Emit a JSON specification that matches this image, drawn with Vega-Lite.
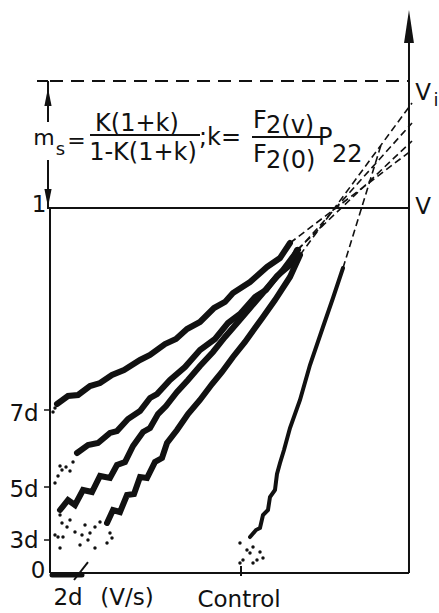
{
  "$schema": "https://vega.github.io/schema/vega-lite/v6.json",
  "width": 439,
  "height": 613,
  "autosize": "none",
  "padding": 0,
  "background": "white",
  "config": {"view": {"stroke": null}},
  "datasets": {
    "curves": [
      {"series": "7d", "i": 1, "x": 0.0195, "y": 0.4630}, {"series": "7d", "i": 2, "x": 0.0501, "y": 0.4849}, {"series": "7d", "i": 3, "x": 0.0780, "y": 0.4877}, {"series": "7d", "i": 4, "x": 0.1114, "y": 0.5123}, {"series": "7d", "i": 5, "x": 0.1393, "y": 0.5205}, {"series": "7d", "i": 6, "x": 0.1727, "y": 0.5425}, {"series": "7d", "i": 7, "x": 0.2061, "y": 0.5562}, {"series": "7d", "i": 8, "x": 0.2507, "y": 0.5836}, {"series": "7d", "i": 9, "x": 0.2786, "y": 0.5973}, {"series": "7d", "i": 10, "x": 0.3203, "y": 0.6274}, {"series": "7d", "i": 11, "x": 0.3510, "y": 0.6411}, {"series": "7d", "i": 12, "x": 0.3816, "y": 0.6685}, {"series": "7d", "i": 13, "x": 0.4178, "y": 0.6877}, {"series": "7d", "i": 14, "x": 0.4568, "y": 0.7260}, {"series": "7d", "i": 15, "x": 0.4875, "y": 0.7425}, {"series": "7d", "i": 16, "x": 0.5097, "y": 0.7671}, {"series": "7d", "i": 17, "x": 0.5571, "y": 0.7973}, {"series": "7d", "i": 18, "x": 0.6045, "y": 0.8384}, {"series": "7d", "i": 19, "x": 0.6407, "y": 0.8630}, {"series": "7d", "i": 20, "x": 0.6685, "y": 0.9041},
      {"series": "5d", "i": 1, "x": 0.0752, "y": 0.3288}, {"series": "5d", "i": 2, "x": 0.1058, "y": 0.3507}, {"series": "5d", "i": 3, "x": 0.1337, "y": 0.3562}, {"series": "5d", "i": 4, "x": 0.1671, "y": 0.3836}, {"series": "5d", "i": 5, "x": 0.1866, "y": 0.3890}, {"series": "5d", "i": 6, "x": 0.2173, "y": 0.4219}, {"series": "5d", "i": 7, "x": 0.2507, "y": 0.4438}, {"series": "5d", "i": 8, "x": 0.2786, "y": 0.4795}, {"series": "5d", "i": 9, "x": 0.2981, "y": 0.4904}, {"series": "5d", "i": 10, "x": 0.3343, "y": 0.5288}, {"series": "5d", "i": 11, "x": 0.3760, "y": 0.5644}, {"series": "5d", "i": 12, "x": 0.4178, "y": 0.6110}, {"series": "5d", "i": 13, "x": 0.4596, "y": 0.6411}, {"series": "5d", "i": 14, "x": 0.4958, "y": 0.6849}, {"series": "5d", "i": 15, "x": 0.5292, "y": 0.7096}, {"series": "5d", "i": 16, "x": 0.5710, "y": 0.7562}, {"series": "5d", "i": 17, "x": 0.6017, "y": 0.7753}, {"series": "5d", "i": 18, "x": 0.6323, "y": 0.8137}, {"series": "5d", "i": 19, "x": 0.6685, "y": 0.8438}, {"series": "5d", "i": 20, "x": 0.6880, "y": 0.8849},
      {"series": "4d", "i": 1, "x": 0.0279, "y": 0.1726}, {"series": "4d", "i": 2, "x": 0.0501, "y": 0.2000}, {"series": "4d", "i": 3, "x": 0.0696, "y": 0.1863}, {"series": "4d", "i": 4, "x": 0.0919, "y": 0.2274}, {"series": "4d", "i": 5, "x": 0.1170, "y": 0.2219}, {"series": "4d", "i": 6, "x": 0.1393, "y": 0.2658}, {"series": "4d", "i": 7, "x": 0.1671, "y": 0.2603}, {"series": "4d", "i": 8, "x": 0.1866, "y": 0.2959}, {"series": "4d", "i": 9, "x": 0.2089, "y": 0.3041}, {"series": "4d", "i": 10, "x": 0.2312, "y": 0.3479}, {"series": "4d", "i": 11, "x": 0.2591, "y": 0.3863}, {"series": "4d", "i": 12, "x": 0.2786, "y": 0.3973}, {"series": "4d", "i": 13, "x": 0.3008, "y": 0.4356}, {"series": "4d", "i": 14, "x": 0.3231, "y": 0.4575}, {"series": "4d", "i": 15, "x": 0.3538, "y": 0.4959}, {"series": "4d", "i": 16, "x": 0.3844, "y": 0.5288}, {"series": "4d", "i": 17, "x": 0.4178, "y": 0.5671}, {"series": "4d", "i": 18, "x": 0.4540, "y": 0.6055}, {"series": "4d", "i": 19, "x": 0.4875, "y": 0.6466}, {"series": "4d", "i": 20, "x": 0.5237, "y": 0.6877}, {"series": "4d", "i": 21, "x": 0.5571, "y": 0.7260}, {"series": "4d", "i": 22, "x": 0.5905, "y": 0.7644}, {"series": "4d", "i": 23, "x": 0.6212, "y": 0.8000}, {"series": "4d", "i": 24, "x": 0.6490, "y": 0.8301}, {"series": "4d", "i": 25, "x": 0.6908, "y": 0.8849},
      {"series": "3d", "i": 1, "x": 0.1588, "y": 0.1370}, {"series": "3d", "i": 2, "x": 0.1755, "y": 0.1726}, {"series": "3d", "i": 3, "x": 0.1950, "y": 0.1671}, {"series": "3d", "i": 4, "x": 0.2145, "y": 0.2137}, {"series": "3d", "i": 5, "x": 0.2340, "y": 0.2164}, {"series": "3d", "i": 6, "x": 0.2507, "y": 0.2630}, {"series": "3d", "i": 7, "x": 0.2702, "y": 0.2603}, {"series": "3d", "i": 8, "x": 0.2925, "y": 0.3041}, {"series": "3d", "i": 9, "x": 0.3120, "y": 0.3151}, {"series": "3d", "i": 10, "x": 0.3259, "y": 0.3562}, {"series": "3d", "i": 11, "x": 0.3538, "y": 0.3918}, {"series": "3d", "i": 12, "x": 0.3844, "y": 0.4356}, {"series": "3d", "i": 13, "x": 0.4178, "y": 0.4740}, {"series": "3d", "i": 14, "x": 0.4513, "y": 0.5178}, {"series": "3d", "i": 15, "x": 0.4791, "y": 0.5507}, {"series": "3d", "i": 16, "x": 0.5097, "y": 0.5918}, {"series": "3d", "i": 17, "x": 0.5432, "y": 0.6329}, {"series": "3d", "i": 18, "x": 0.5710, "y": 0.6712}, {"series": "3d", "i": 19, "x": 0.5933, "y": 0.7014}, {"series": "3d", "i": 20, "x": 0.6267, "y": 0.7479}, {"series": "3d", "i": 21, "x": 0.6685, "y": 0.8110}, {"series": "3d", "i": 22, "x": 0.6964, "y": 0.8712}
    ],
    "control": [
      {"i": 1, "x": 0.5571, "y": 0.0986}, {"i": 2, "x": 0.5738, "y": 0.1178}, {"i": 3, "x": 0.5850, "y": 0.1233}, {"i": 4, "x": 0.5933, "y": 0.1589}, {"i": 5, "x": 0.6072, "y": 0.1726}, {"i": 6, "x": 0.6128, "y": 0.2082}, {"i": 7, "x": 0.6267, "y": 0.2274}, {"i": 8, "x": 0.6323, "y": 0.2712}, {"i": 9, "x": 0.6407, "y": 0.3014}, {"i": 10, "x": 0.6518, "y": 0.3370}, {"i": 11, "x": 0.6685, "y": 0.3973}, {"i": 12, "x": 0.6964, "y": 0.4740}, {"i": 13, "x": 0.7242, "y": 0.5699}, {"i": 14, "x": 0.7604, "y": 0.6740}, {"i": 15, "x": 0.7883, "y": 0.7534}, {"i": 16, "x": 0.8162, "y": 0.8356}
    ],
    "extrapolations": [
      {"x": 0.6685, "y": 0.9041, "x2": 1.0084, "y2": 1.1589},
      {"x": 0.6880, "y": 0.8849, "x2": 1.0084, "y2": 1.1836},
      {"x": 0.6908, "y": 0.8849, "x2": 1.0084, "y2": 1.2329},
      {"x": 0.6964, "y": 0.8712, "x2": 1.0084, "y2": 1.2877},
      {"x": 0.8162, "y": 0.8356, "x2": 0.9220, "y2": 1.1726}
    ],
    "vi": [{"x": 0, "y": 1.3479, "x2": 1, "y2": 1.3479}],
    "frame": [
      {"x": 0, "y": 0, "x2": 0, "y2": 1},
      {"x": 0, "y": 0, "x2": 1, "y2": 0},
      {"x": -0.0084, "y": 1, "x2": 1, "y2": 1},
      {"x": 1, "y": 0, "x2": 1, "y2": 1.4603},
      {"x": -0.0362, "y": 1.3479, "x2": -0.0056, "y2": 1.3479},
      {"x": -0.0056, "y": 1.3479, "x2": -0.0056, "y2": 1.2356},
      {"x": -0.0056, "y": 1.1315, "x2": -0.0056, "y2": 1.0},
      {"x": 0.0669, "y": -0.0192, "x2": 0.1058, "y2": 0.0301},
      {"x": 0.5320, "y": 0.0192, "x2": 0.5320, "y2": -0.0082}
    ],
    "ticks": [
      {"x": -0.0167, "y": 0.4466, "x2": 0, "y2": 0.4466},
      {"x": -0.0167, "y": 0.2356, "x2": 0, "y2": 0.2356},
      {"x": -0.0167, "y": 0.0904, "x2": 0, "y2": 0.0904}
    ],
    "twoday": [{"x": 0.0056, "y": -0.0055, "x2": 0.0891, "y2": -0.0055}],
    "dots": [
      {"x": 0.0279, "y": 0.1589}, {"x": 0.0334, "y": 0.1370}, {"x": 0.0474, "y": 0.1260}, {"x": 0.0223, "y": 0.0986}, {"x": 0.0362, "y": 0.0986}, {"x": 0.0696, "y": 0.1123}, {"x": 0.0891, "y": 0.1041}, {"x": 0.1114, "y": 0.1096}, {"x": 0.1253, "y": 0.1260}, {"x": 0.1393, "y": 0.1397}, {"x": 0.0836, "y": 0.0767}, {"x": 0.1058, "y": 0.0904}, {"x": 0.1253, "y": 0.0685}, {"x": 0.0279, "y": 0.0685}, {"x": 0.1671, "y": 0.1096}, {"x": 0.1727, "y": 0.0959}, {"x": 0.1588, "y": 0.0822}, {"x": 0.0139, "y": 0.1041}, {"x": 0.0557, "y": 0.1452}, {"x": 0.0975, "y": 0.1315},
      {"x": 0.0139, "y": 0.2466}, {"x": 0.0223, "y": 0.2658}, {"x": 0.0334, "y": 0.2822}, {"x": 0.0446, "y": 0.2904}, {"x": 0.0557, "y": 0.2795}, {"x": 0.0279, "y": 0.2932}, {"x": 0.0641, "y": 0.3041},
      {"x": 0.0084, "y": 0.4411}, {"x": 0.0139, "y": 0.4521},
      {"x": 0.5292, "y": 0.0822}, {"x": 0.5655, "y": 0.0712}, {"x": 0.5571, "y": 0.0548}, {"x": 0.5376, "y": 0.0356}, {"x": 0.5766, "y": 0.0356}, {"x": 0.5933, "y": 0.0411}, {"x": 0.5292, "y": 0.0274}, {"x": 0.5655, "y": 0.0274}, {"x": 0.5487, "y": 0.0630}, {"x": 0.5850, "y": 0.0575}
    ],
    "labels": [
      {"x": -0.0306, "y": 1.0082, "t": "1"},
      {"x": -0.0724, "y": 0.4356, "t": "7d"},
      {"x": -0.0724, "y": 0.2274, "t": "5d"},
      {"x": -0.0724, "y": 0.0877, "t": "3d"},
      {"x": -0.0334, "y": 0.0055, "t": "0"},
      {"x": 0.0501, "y": -0.0685, "t": "2d"},
      {"x": 0.2145, "y": -0.0685, "t": "(V/s)"},
      {"x": 0.5265, "y": -0.0740, "t": "Control"},
      {"x": 1.0390, "y": 1.3150, "t": "V"},
      {"x": 1.0390, "y": 1.0027, "t": "V"}
    ],
    "formulaSmall": [
      {"x": -0.0167, "y": 1.1726, "t": "m"},
      {"x": 0.0738, "y": 1.1644, "t": "="}
    ],
    "formulaCenter": [
      {"x": 0.2423, "y": 1.2110, "t": "K(1+k)"},
      {"x": 0.2591, "y": 1.1315, "t": "1-K(1+k)"}
    ],
    "formulaLeft": [
      {"x": 0.4150, "y": 1.1726, "t": ";k="},
      {"x": 0.5655, "y": 1.2192, "t": "F"},
      {"x": 0.6017, "y": 1.2055, "t": "2(v)"},
      {"x": 0.5655, "y": 1.1260, "t": "F"},
      {"x": 0.6017, "y": 1.1096, "t": "2(0)"},
      {"x": 0.7465, "y": 1.1726, "t": "P"},
      {"x": 0.7855, "y": 1.1260, "t": "22"}
    ],
    "subscripts": [
      {"x": 0.0292, "y": 1.1452, "t": "s"},
      {"x": 1.0752, "y": 1.2795, "t": "i"}
    ],
    "bars": [
      {"x": 0.1114, "y": 1.2, "x2": 0.4178, "y2": 1.2},
      {"x": 0.5627, "y": 1.1945, "x2": 0.7577, "y2": 1.1945}
    ],
    "headBig": [{"x": 1, "y": 1.4973}],
    "headUp": [{"x": -0.0056, "y": 1.3041}],
    "headDown": [{"x": -0.0056, "y": 1.0274}]
  },
  "encoding": {
    "x": {"field": "x", "type": "quantitative", "scale": {"domain": [-0.1393, 1.0836], "nice": false, "zero": false}, "axis": null},
    "y": {"field": "y", "type": "quantitative", "scale": {"domain": [-0.10959, 1.56986], "nice": false, "zero": false}, "axis": null}
  },
  "layer": [
    {"data": {"name": "vi"}, "mark": {"type": "rule", "color": "#111", "strokeWidth": 2, "strokeDash": [13, 8]}, "encoding": {"x2": {"field": "x2"}, "y2": {"field": "y2"}}},
    {"data": {"name": "frame"}, "mark": {"type": "rule", "color": "#111", "strokeWidth": 2}, "encoding": {"x2": {"field": "x2"}, "y2": {"field": "y2"}}},
    {"data": {"name": "ticks"}, "mark": {"type": "rule", "color": "#111", "strokeWidth": 1.5}, "encoding": {"x2": {"field": "x2"}, "y2": {"field": "y2"}}},
    {"data": {"name": "twoday"}, "mark": {"type": "rule", "color": "#111", "strokeWidth": 5, "strokeCap": "round"}, "encoding": {"x2": {"field": "x2"}, "y2": {"field": "y2"}}},
    {"data": {"name": "extrapolations"}, "mark": {"type": "rule", "color": "#111", "strokeWidth": 1.6, "strokeDash": [7, 4]}, "encoding": {"x2": {"field": "x2"}, "y2": {"field": "y2"}}},
    {"data": {"name": "bars"}, "mark": {"type": "rule", "color": "#111", "strokeWidth": 2}, "encoding": {"x2": {"field": "x2"}, "y2": {"field": "y2"}}},
    {"data": {"name": "curves"}, "mark": {"type": "line", "color": "#111", "strokeWidth": 6, "strokeJoin": "miter", "strokeCap": "round"}, "encoding": {"detail": {"field": "series", "type": "nominal"}, "order": {"field": "i", "type": "quantitative"}}},
    {"data": {"name": "control"}, "mark": {"type": "line", "color": "#111", "strokeWidth": 4, "strokeCap": "round"}, "encoding": {"order": {"field": "i", "type": "quantitative"}}},
    {"data": {"name": "dots"}, "mark": {"type": "point", "filled": true, "color": "#111", "size": 12, "opacity": 1}},
    {"data": {"name": "headBig"}, "mark": {"type": "point", "filled": true, "color": "#111", "opacity": 1, "size": 1089, "shape": "M0,-1L0.3,1L-0.3,1Z"}},
    {"data": {"name": "headUp"}, "mark": {"type": "point", "filled": true, "color": "#111", "opacity": 1, "size": 324, "shape": "M0,-1L0.4,1L-0.4,1Z"}},
    {"data": {"name": "headDown"}, "mark": {"type": "point", "filled": true, "color": "#111", "opacity": 1, "size": 324, "shape": "M0,1L0.4,-1L-0.4,-1Z"}},
    {"data": {"name": "labels"}, "mark": {"type": "text", "font": "DejaVu Sans", "fontSize": 23, "align": "center", "baseline": "middle", "color": "#111"}, "encoding": {"text": {"field": "t"}}},
    {"data": {"name": "formulaSmall"}, "mark": {"type": "text", "font": "DejaVu Sans", "fontSize": 22, "align": "center", "baseline": "alphabetic", "color": "#111"}, "encoding": {"text": {"field": "t"}}},
    {"data": {"name": "formulaCenter"}, "mark": {"type": "text", "font": "DejaVu Sans", "fontSize": 24, "align": "center", "baseline": "alphabetic", "color": "#111"}, "encoding": {"text": {"field": "t"}}},
    {"data": {"name": "formulaLeft"}, "mark": {"type": "text", "font": "DejaVu Sans", "fontSize": 24, "align": "left", "baseline": "alphabetic", "color": "#111"}, "encoding": {"text": {"field": "t"}}},
    {"data": {"name": "subscripts"}, "mark": {"type": "text", "font": "DejaVu Sans", "fontSize": 18, "align": "center", "baseline": "alphabetic", "color": "#111"}, "encoding": {"text": {"field": "t"}}}
  ]
}
